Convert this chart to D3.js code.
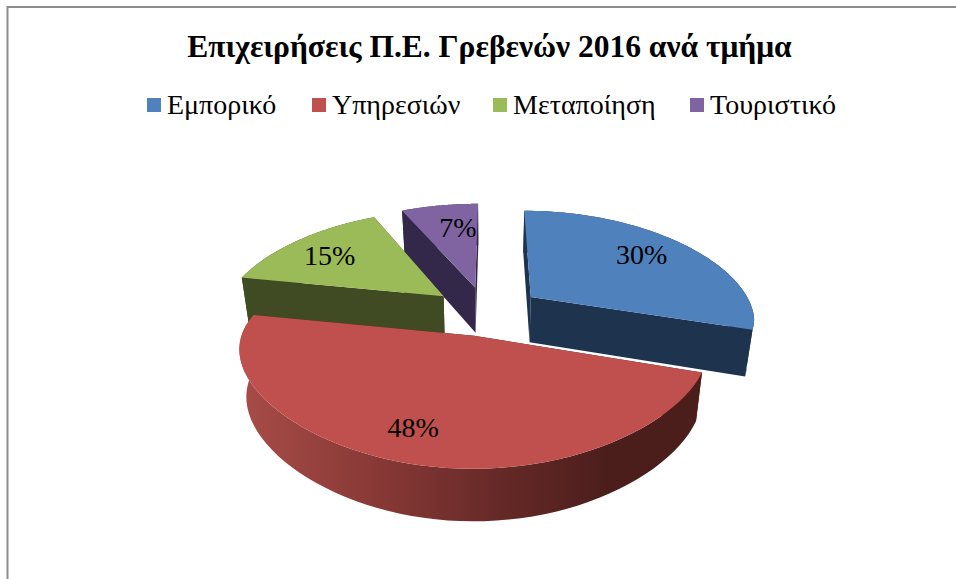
<!DOCTYPE html>
<html><head><meta charset="utf-8">
<script src="https://cdn.jsdelivr.net/npm/d3@7/dist/d3.min.js"></script>
<style>html,body{margin:0;padding:0;background:#fff}svg{display:block}</style>
</head><body><svg id="c" width="956" height="579"></svg>
<script>
const titleText = "Επιχειρήσεις Π.Ε. Γρεβενών 2016 ανά τμήμα";
const categories = ["Εμπορικό","Υπηρεσιών","Μεταποίηση","Τουριστικό"];
const shares = [30,48,15,7];
const topColors = ["#4f81bd","#c0504d","#9bbb59","#8064a2"];
const sideColors = ["#1e334d","#4b1e1c","#404a23","#33284a"];

const svg = d3.select("#c");
const SERIF = "'Liberation Serif','DejaVu Serif',serif";

// frame
svg.append("path").attr("d","M7.5,579V7H956").attr("fill","none").attr("stroke","#8c8c8c").attr("stroke-width",2);

svg.append("text").attr("x",489.5).attr("y",57).attr("text-anchor","middle")
  .attr("font-family",SERIF).attr("font-weight","bold").attr("font-size",31.5).attr("fill","#000").text(titleText);

// legend
const legendPos = [147,312,493,690];
const leg = svg.append("g").selectAll("g").data(categories).join("g")
  .attr("transform",(d,i)=>`translate(${legendPos[i]},0)`);
leg.append("rect").attr("x",0).attr("y",98).attr("width",14).attr("height",14).attr("fill",(d,i)=>topColors[i]);
leg.append("text").attr("x",20).attr("y",114).attr("font-family",SERIF).attr("font-size",28).attr("fill","#000").text(d=>d);

// 3D pie geometry
const R = 223, Xc = 487, Yc = 311, explode = 53, Dx = 1000, Dy = 1430, ky = 0.465, depth = 46;
const rot = 0.3*Math.PI/180;
const pie = d3.pie().sort(null).startAngle(rot).endAngle(2*Math.PI+rot);
const arcs = pie(shares);
const sliceShift = [2,1,-3,-1];

function project(u,v,z){
  const sx = v<0 ? 1/(1-v/Dx) : 1+0.00105*v/(1+v/200);
  const sy = 1/(1-v/Dy);
  return [Xc + u*sx*(1-0.028*z), Yc + ky*v*sy + z*depth*(1+(sy-1)*0.6)];
}
const line = d3.line();
function slicePts(a,i){
  const mid=(a.startAngle+a.endAngle)/2;
  const ox=explode*Math.sin(mid), oy=-explode*Math.cos(mid);
  const pt=(ang,r,z)=>{const p=project(ox+r*Math.sin(ang),oy-r*Math.cos(ang),z);return [p[0]+sliceShift[i],p[1]];};
  const angs=d3.range(0,61).map(k=>a.startAngle+(a.endAngle-a.startAngle)*k/60);
  return {pt,angs,mid};
}
const defs=svg.append("defs");
const g=defs.append("linearGradient").attr("id","wall").attr("gradientUnits","userSpaceOnUse")
  .attr("x1",240).attr("x2",700).attr("y1",0).attr("y2",0);
[[0,"#a84c48"],[0.28,"#8a3a37"],[0.55,"#672a28"],[0.8,"#4b1e1c"],[1,"#4b1e1c"]].forEach(s=>g.append("stop").attr("offset",s[0]).attr("stop-color",s[1]));

const paintOrder=[3,2,0,1];
const root=svg.append("g");
paintOrder.forEach(i=>{
  const a=arcs[i]; const {pt,angs}=slicePts(a,i);
  const side = i===1 ? "url(#wall)" : sideColors[i];
  const flat = sideColors[i];
  [a.startAngle,a.endAngle].forEach(ang=>{
    root.append("path").attr("d",line([pt(0,0,0),pt(ang,R,0),pt(ang,R,1),pt(0,0,1)])+"Z").attr("fill",flat);
  });
  const rim=[...angs.map(t=>pt(t,R,0)),...angs.slice().reverse().map(t=>pt(t,R,1))];
  root.append("path").attr("d",line(rim)+"Z").attr("fill",side);
  const top=[pt(0,0,0),...angs.map(t=>pt(t,R,0))];
  root.append("path").attr("d",line(top)+"Z").attr("fill",topColors[i]);
});

// labels
const labelNudge=[[10,-7],[-20,16],[-17,-3],[7,-5]];
arcs.forEach((a,i)=>{
  const {pt,mid}=slicePts(a,i);
  const p=pt(mid,R*0.64,0);
  svg.append("text").attr("x",p[0]+labelNudge[i][0]).attr("y",p[1]+labelNudge[i][1]+9)
    .attr("text-anchor","middle").attr("font-family",SERIF).attr("font-size",28).attr("fill","#000")
    .text(shares[i]+"%");
});
</script></body></html>
